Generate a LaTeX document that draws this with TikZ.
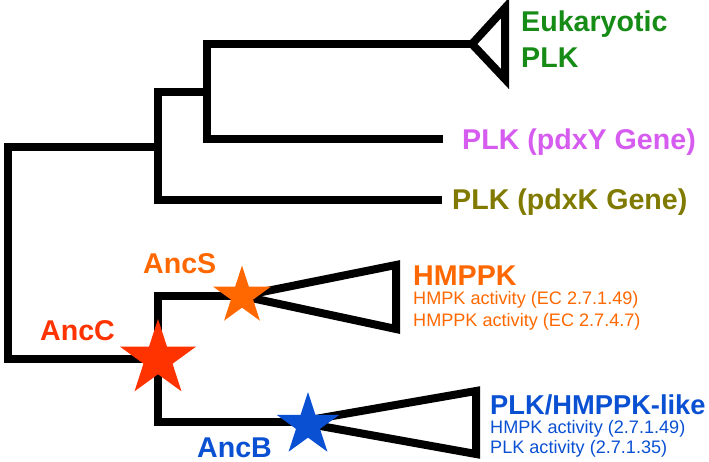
\documentclass[tikz,border=0pt]{standalone}
\usepackage{fontspec}
\setmainfont{Liberation Sans}
\usetikzlibrary{shapes.geometric}
\definecolor{cgreen}{RGB}{22,140,22}
\definecolor{cmag}{RGB}{214,92,240}
\definecolor{colive}{RGB}{128,122,0}
\definecolor{corange}{RGB}{255,104,0}
\definecolor{cred}{RGB}{255,51,0}
\definecolor{cblue}{RGB}{10,80,210}
\tikzset{
  branch/.style={draw=black, line width=8pt, line join=miter, line cap=butt},
  clade/.style={draw=black, line width=8pt, line join=miter},
  biglbl/.style={anchor=base west, inner sep=0pt, font=\fontsize{28.6}{30}\selectfont\bfseries},
  sublbl/.style={anchor=base west, inner sep=0pt, font=\fontsize{18.1}{20}\selectfont},
  ancstar/.style={star, star points=5, star point ratio=2.618, draw=none, inner sep=0pt}
}
\begin{document}
\begin{tikzpicture}[x=1pt,y=-1pt]
\useasboundingbox (0,0) rectangle (709,462);
% tree coordinates
\coordinate (root) at (8,253);
\coordinate (n1) at (158,147);
\coordinate (n2) at (207,92);
\coordinate (ancC) at (158,359);
\coordinate (ancS) at (242,296);
\coordinate (ancB) at (308,425);
\coordinate (eukApex) at (472,44);
\coordinate (eukTop) at (505,8);
\coordinate (eukBot) at (505,79);
\coordinate (pdxYend) at (443,139);
\coordinate (pdxKend) at (442,200);
\coordinate (hmTop) at (396,265);
\coordinate (hmBot) at (396,329);
\coordinate (bApex) at (298,422);
\coordinate (bTop) at (476,391);
\coordinate (bBot) at (476,454);
% branches
\draw[branch] (n1) -| (root) |- (ancC);
\draw[branch] (n2) -| (n1) |- (pdxKend);
\draw[branch] (eukApex) -| (n2) |- (pdxYend);
\draw[branch] (ancS) -| (ancC) |- (bApex);
% collapsed clades
\draw[clade] (eukApex) -- (eukTop) -- (eukBot) -- cycle;
\draw[clade] (ancS) -- (hmTop) -- (hmBot) -- cycle;
\draw[clade] (bApex) -- (bTop) -- (bBot) -- cycle;
% ancestor stars
\node[ancstar, fill=cred, minimum size=80pt] (starC) at (ancC) {};
\node[ancstar, fill=corange, minimum size=61pt] (starS) at (ancS) {};
\node[ancstar, fill=cblue, minimum size=66pt] (starB) at (ancB) {};
% ancestor labels
\node[biglbl, text=cred] (lblC) at (40,340) {AncC};
\node[biglbl, text=corange] (lblS) at (143,273) {AncS};
\node[biglbl, text=cblue] (lblB) at (197,457) {AncB};
% leaf labels
\node[biglbl, text=cgreen] (euk1) at (521,32) {Eukaryotic};
\node[biglbl, text=cgreen] (euk2) at (521,68) {PLK};
\node[biglbl, text=cmag] (pdxY) at (462,150) {PLK (pdxY Gene)};
\node[biglbl, text=colive] (pdxK) at (452,210) {PLK (pdxK Gene)};
\node[biglbl, text=corange] (hmppk) at (413,285) {HMPPK};
\node[sublbl, text=corange] (hm1) at (413,305) {HMPK activity (EC 2.7.1.49)};
\node[sublbl, text=corange] (hm2) at (413,326) {HMPPK activity (EC 2.7.4.7)};
\node[biglbl, text=cblue, font=\fontsize{27.3}{30}\selectfont\bfseries] (plkh) at (490,414) {PLK/HMPPK-like};
\node[sublbl, text=cblue] (pl1) at (490,433) {HMPK activity (2.7.1.49)};
\node[sublbl, text=cblue] (pl2) at (490,453) {PLK activity (2.7.1.35)};
\end{tikzpicture}
\end{document}
